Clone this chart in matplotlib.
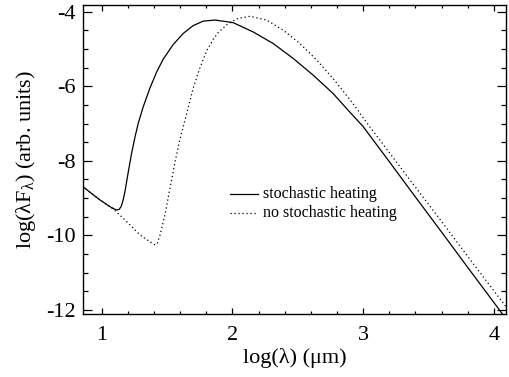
import numpy as np
import matplotlib.pyplot as plt
from matplotlib.ticker import MultipleLocator

plt.rcParams['font.family'] = ['Liberation Serif', 'DejaVu Serif']
plt.rcParams['mathtext.fontset'] = 'custom'
plt.rcParams['mathtext.rm'] = 'Liberation Serif'
plt.rcParams['mathtext.it'] = 'Liberation Serif:italic'
plt.rcParams['axes.unicode_minus'] = False

# log(lambda) and log(lambda F_lambda)
x_stoch = [0.855, 0.92, 0.987, 1.063, 1.10, 1.118, 1.135, 1.150, 1.163, 1.178,
           1.203, 1.229, 1.255, 1.280, 1.318, 1.369, 1.420, 1.471, 1.547, 1.624,
           1.700, 1.777, 1.866, 2.006, 2.159, 2.312, 2.465, 2.618, 2.77, 2.88,
           3.0, 3.2, 3.4, 3.6, 3.8, 4.0, 4.12]
y_stoch = [-8.69, -8.87, -9.05, -9.23, -9.30, -9.32, -9.30, -9.22, -9.07, -8.83,
           -8.31, -7.80, -7.36, -6.99, -6.55, -6.05, -5.62, -5.27, -4.88, -4.58,
           -4.37, -4.25, -4.22, -4.29, -4.54, -4.85, -5.25, -5.70, -6.19, -6.62,
           -7.08, -8.02, -8.97, -9.91, -10.86, -11.80, -12.37]

x_nostoch = [0.855, 0.92, 0.987, 1.063, 1.10, 1.191, 1.293, 1.382, 1.410, 1.425,
             1.446, 1.484, 1.522, 1.560, 1.599, 1.650, 1.700, 1.752, 1.803, 1.853,
             1.891, 1.956, 2.032, 2.134, 2.261, 2.388, 2.516, 2.644, 2.77, 2.92,
             3.05, 3.33, 3.59, 3.84, 4.12]
y_nostoch = [-8.69, -8.87, -9.05, -9.23, -9.33, -9.63, -9.99, -10.20, -10.26, -10.22,
             -10.00, -9.45, -8.75, -8.05, -7.42, -6.74, -6.05, -5.50, -5.05, -4.74,
             -4.56, -4.35, -4.19, -4.12, -4.22, -4.49, -4.85, -5.29, -5.79, -6.45,
             -7.08, -8.38, -9.58, -10.75, -12.04]

labels = ['stochastic heating', 'no stochastic heating']

fig = plt.figure(figsize=(5.09, 3.77), dpi=100)
ax = fig.add_axes([0.1625, 0.1684, 0.8315, 0.818])

ax.plot(x_stoch, y_stoch, color='black', lw=0.9)
ax.plot(x_nostoch, y_nostoch, color='black', lw=0.9, ls=(0, (1, 2.2)))

ax.set_xlim(0.855, 4.093)
ax.set_ylim(-12.1, -3.82)

ax.xaxis.set_major_locator(MultipleLocator(1))
ax.xaxis.set_minor_locator(MultipleLocator(0.2))
ax.yaxis.set_major_locator(MultipleLocator(2))
ax.yaxis.set_minor_locator(MultipleLocator(0.5))

ax.tick_params(axis='both', which='both', direction='in', top=True, right=True,
               labelsize=16, width=0.9, color='black')
ax.tick_params(axis='x', which='major', length=4.3, pad=9)
ax.tick_params(axis='x', which='minor', length=2.2)
ax.tick_params(axis='y', which='major', length=6.5, pad=5)
ax.tick_params(axis='y', which='minor', length=3.3)
for s in ax.spines.values():
    s.set_linewidth(1.0)

ax.set_xlabel('log(λ) (μm)', fontsize=16, labelpad=2)
ax.set_ylabel(r'log(λF$_{\mathrm{λ}}$) (arb. units)', fontsize=16, labelpad=6)

# legend drawn by hand, IDL style
ax.plot([0.348, 0.414], [0.387, 0.387], color='black', lw=0.9,
        transform=ax.transAxes)
ax.plot([0.348, 0.414], [0.327, 0.327], color='black', lw=0.9, ls=(0, (1, 2.2)),
        transform=ax.transAxes)
ax.text(0.426, 0.387, labels[0], transform=ax.transAxes, fontsize=11.5,
        va='center', ha='left')
ax.text(0.426, 0.327, labels[1], transform=ax.transAxes, fontsize=11.5,
        va='center', ha='left')

fig.savefig('out.png', dpi=100)
